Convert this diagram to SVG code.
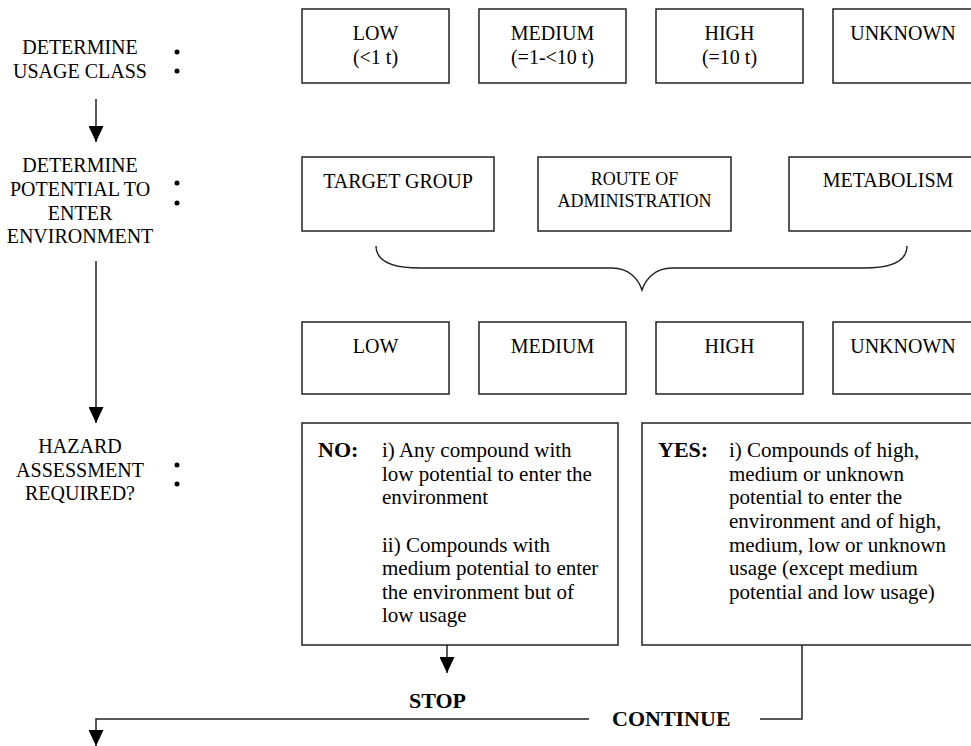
<svg xmlns="http://www.w3.org/2000/svg" width="971" height="746" viewBox="0 0 971 746" font-family="Liberation Serif, DejaVu Serif, serif">
<defs>
<style>
.lbl,.sm,.body,.bold{font-family:"Liberation Serif","DejaVu Serif",serif;fill:#000}
.lbl{font-size:20px;text-anchor:middle}
.box{fill:#fff;stroke:#222;stroke-width:1.5}
.sm{font-size:18px;text-anchor:middle}
.body{font-size:21px}
.bold{font-weight:bold;font-size:22px}
.ln{fill:none;stroke:#222;stroke-width:1.5}
.dot{fill:#000}
</style>
<marker id="ah" markerUnits="userSpaceOnUse" markerWidth="16" markerHeight="15" refX="16" refY="7.5" orient="auto">
<path d="M0,0 L16,7.5 L0,15 z" fill="#000"/>
</marker>
</defs>
<rect width="971" height="746" fill="#fff"/>

<g id="step-usage">
<text class="lbl" x="80" y="54">DETERMINE</text>
<text class="lbl" x="80" y="78">USAGE CLASS</text>
<circle class="dot" cx="177" cy="52" r="2.5"/>
<circle class="dot" cx="177" cy="71" r="2.5"/>
</g>
<g id="step-potential">
<text class="lbl" x="80" y="172">DETERMINE</text>
<text class="lbl" x="80" y="196">POTENTIAL TO</text>
<text class="lbl" x="80" y="220">ENTER</text>
<text class="lbl" x="80" y="243">ENVIRONMENT</text>
<circle class="dot" cx="177" cy="183" r="2.5"/>
<circle class="dot" cx="177" cy="203" r="2.5"/>
</g>
<g id="step-hazard">
<text class="lbl" x="80" y="453">HAZARD</text>
<text class="lbl" x="80" y="477">ASSESSMENT</text>
<text class="lbl" x="80" y="500">REQUIRED?</text>
<circle class="dot" cx="177" cy="465" r="2.5"/>
<circle class="dot" cx="177" cy="484" r="2.5"/>
</g>

<g id="usage-low"><rect class="box" x="302" y="9" width="147" height="74"/><text class="lbl" x="375.5" y="40">LOW</text><text class="lbl" x="375.5" y="64">(&lt;1 t)</text></g>
<g id="usage-medium"><rect class="box" x="479" y="9" width="147" height="74"/><text class="lbl" x="552.5" y="40">MEDIUM</text><text class="lbl" x="552.5" y="64">(=1-&lt;10 t)</text></g>
<g id="usage-high"><rect class="box" x="656" y="9" width="147" height="74"/><text class="lbl" x="729.5" y="40">HIGH</text><text class="lbl" x="729.5" y="64">(=10 t)</text></g>
<g id="usage-unknown"><rect class="box" x="833" y="9" width="147" height="74"/><text class="lbl" x="903" y="40">UNKNOWN</text></g>

<g id="factor-target"><rect class="box" x="302" y="157" width="192" height="74"/><text class="lbl" x="398" y="188">TARGET GROUP</text></g>
<g id="factor-route"><rect class="box" x="538" y="157" width="193" height="74"/><text class="sm" x="634.5" y="185">ROUTE OF</text><text class="sm" x="634.5" y="207">ADMINISTRATION</text></g>
<g id="factor-metabolism"><rect class="box" x="789" y="157" width="192" height="74"/><text class="lbl" x="888" y="187">METABOLISM</text></g>

<g id="pot-low"><rect class="box" x="302" y="322" width="147" height="72"/><text class="lbl" x="375.5" y="353">LOW</text></g>
<g id="pot-medium"><rect class="box" x="479" y="322" width="147" height="72"/><text class="lbl" x="552.5" y="353">MEDIUM</text></g>
<g id="pot-high"><rect class="box" x="656" y="322" width="147" height="72"/><text class="lbl" x="729.5" y="353">HIGH</text></g>
<g id="pot-unknown"><rect class="box" x="833" y="322" width="147" height="72"/><text class="lbl" x="903" y="353">UNKNOWN</text></g>

<g id="no-box">
<rect class="box" x="302" y="423" width="316" height="222"/>
<text class="bold" x="318" y="457">NO:</text>
<text class="body" x="382" y="457">i) Any compound with</text>
<text class="body" x="382" y="481">low potential to enter the</text>
<text class="body" x="382" y="504">environment</text>
<text class="body" x="382" y="552">ii) Compounds with</text>
<text class="body" x="382" y="575">medium potential to enter</text>
<text class="body" x="382" y="599">the environment but of</text>
<text class="body" x="382" y="622">low usage</text>
</g>
<g id="yes-box">
<rect class="box" x="642" y="423" width="340" height="222"/>
<text class="bold" x="658" y="457">YES:</text>
<text class="body" x="729" y="457">i) Compounds of high,</text>
<text class="body" x="729" y="481">medium or unknown</text>
<text class="body" x="729" y="504">potential to enter the</text>
<text class="body" x="729" y="528">environment and of high,</text>
<text class="body" x="729" y="552">medium, low or unknown</text>
<text class="body" x="729" y="575">usage (except medium</text>
<text class="body" x="729" y="599">potential and low usage)</text>
</g>
<g id="stop"><text class="bold" x="409" y="708">STOP</text></g>
<g id="continue"><text class="bold" x="612" y="726">CONTINUE</text></g>

<g id="connectors">
<path class="ln" d="M376,246 C376,262 394,268 420,268 L612,268 C628,268 638,278 642,290 C646,278 656,268 672,268 L864,268 C890,268 907,262 907,246"/>
<line class="ln" x1="96" y1="99" x2="96" y2="142" marker-end="url(#ah)"/>
<line class="ln" x1="96" y1="261" x2="96" y2="423" marker-end="url(#ah)"/>
<line class="ln" x1="447" y1="645" x2="447" y2="673" marker-end="url(#ah)"/>
<polyline class="ln" points="589,719 96,719 96,746" marker-end="url(#ah)"/>
<polyline class="ln" points="760,719 802,719 802,645"/>
</g>
</svg>
